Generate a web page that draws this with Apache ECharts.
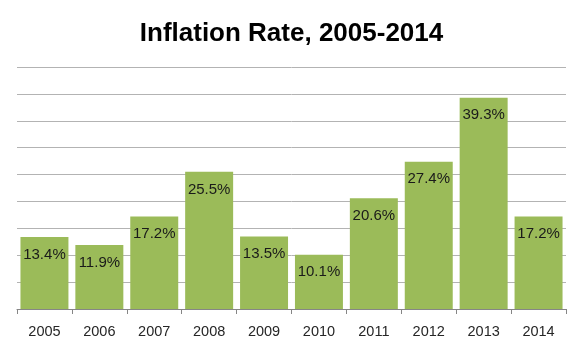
<!DOCTYPE html>
<html>
<head>
<meta charset="utf-8">
<script src="https://cdn.jsdelivr.net/npm/echarts@6/dist/echarts.min.js"></script>
<style>html,body{margin:0;padding:0;background:#fff}#c{width:583px;height:349px}</style>
</head>
<body>
<div id="c"></div>
<script>
var years = ['2005','2006','2007','2008','2009','2010','2011','2012','2013','2014'];
var inflation = [13.4, 11.9, 17.2, 25.5, 13.5, 10.1, 20.6, 27.4, 39.3, 17.2];
var titleText = 'Inflation Rate, 2005-2014';

var chart = echarts.init(document.getElementById('c'), null, {renderer: 'canvas'});
chart.setOption({
  animation: false,
  backgroundColor: '#fff',
  title: {
    text: titleText,
    left: 'center',
    top: 16,
    textStyle: {fontFamily: 'Liberation Sans', fontWeight: 'bold', fontSize: 26, color: '#000'}
  },
  grid: {left: 17, right: 17, top: 67, bottom: 40, containLabel: false},
  xAxis: {
    type: 'category',
    data: years,
    axisLine: {lineStyle: {color: '#868686', width: 1}},
    axisTick: {show: true, length: 5, lineStyle: {color: '#868686'}},
    axisLabel: {margin: 15, fontFamily: 'Liberation Sans', fontSize: 14.5, color: '#262626'}
  },
  yAxis: {
    type: 'value',
    min: 0, max: 45, interval: 5,
    axisLabel: {show: false},
    axisLine: {show: false},
    axisTick: {show: false},
    splitLine: {lineStyle: {color: '#b3b3b3', width: 1}}
  },
  series: [{
    type: 'bar',
    data: inflation,
    barCategoryGap: '12.6%',
    itemStyle: {color: '#9BBB59'},
    label: {
      show: true,
      position: 'insideTop',
      distance: 10,
      formatter: function (p) { return p.value.toFixed(1) + '%'; },
      fontFamily: 'Liberation Sans',
      fontSize: 15,
      color: '#1a1a1a'
    }
  }]
});
</script>
</body>
</html>
